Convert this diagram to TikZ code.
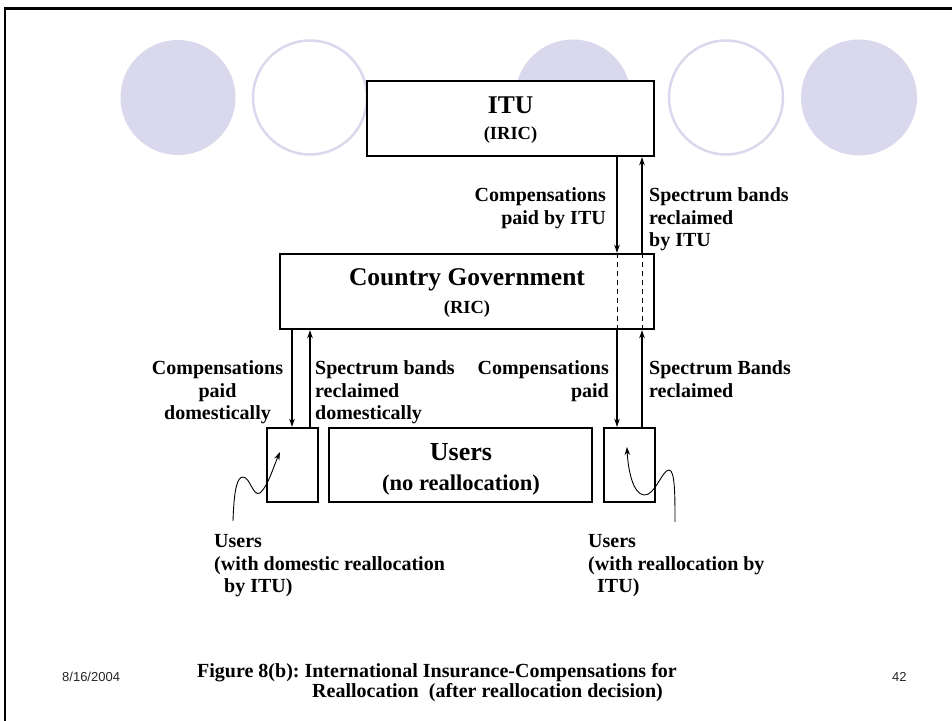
\documentclass[tikz,border=0pt]{standalone}
\usepackage{fontspec}
\setmainfont{Liberation Serif}
\newfontfamily\datefont{Liberation Sans}
\usetikzlibrary{arrows.meta,calc}
\definecolor{lav}{HTML}{DAD8EC}
\frenchspacing
\begin{document}
\begin{tikzpicture}[x=1pt,y=-1pt,
  boxnode/.style={draw, line width=2.4pt, fill=white, inner sep=0pt},
  ttl/.style={font=\bfseries\fontsize{25.5}{28}\selectfont, inner sep=0pt, anchor=base},
  sub/.style={font=\bfseries\fontsize{18.5}{22}\selectfont, inner sep=0pt, anchor=base},
  lab/.style={font=\bfseries\fontsize{20}{22.5}\selectfont, inner sep=0pt},
  arr/.style={-{Stealth[length=8pt,width=5.5pt]}, line width=1.1pt},
  curv/.style={-{Stealth[length=8pt,width=5.5pt]}, line width=0.9pt},
  dsh/.style={dashed, dash pattern=on 5pt off 4pt, line width=1pt},
  fcirc/.style={fill=lav, draw=none},
  ocirc/.style={draw=lav, line width=2.5pt, fill=white}]
\useasboundingbox (0,0) rectangle (952,720);
% slide border
\draw[line width=2.5pt] (5,730) -- (5,8.5) -- (960,8.5);
% decorative circles
\fill[fcirc] (178,97.5) circle (57.5);
\draw[ocirc] (310,97.5) circle (57);
\fill[fcirc] (573,97.5) circle (58);
\draw[ocirc] (726,97.5) circle (57);
\fill[fcirc] (859,97.5) circle (58);
% boxes
\node[boxnode, minimum width=287pt, minimum height=75pt] (itu) at (510.5,118.5) {};
\node[boxnode, minimum width=374pt, minimum height=75pt] (gov) at (467,291.5) {};
\node[boxnode, minimum width=51pt, minimum height=74pt] (ul) at (292.5,465) {};
\node[boxnode, minimum width=263pt, minimum height=74pt] (um) at (460.5,465) {};
\node[boxnode, minimum width=51pt, minimum height=74pt] (ur) at (629.5,465) {};
% box texts
\node[ttl] (itut) at (510.5,113) {ITU};
\node[sub] (itus) at (510.5,139) {(IRIC)};
\node[ttl] (govt) at (467,285.5) {Country Government};
\node[sub] (govs) at (467,313) {(RIC)};
\node[ttl, font=\bfseries\fontsize{26}{28}\selectfont] (umt) at (461,460.5) {Users};
\node[sub, font=\bfseries\fontsize{22.5}{26}\selectfont] (ums) at (461,490) {(no reallocation)};
% arrow columns
\coordinate (xa) at (617,0);
\coordinate (xb) at (642,0);
\coordinate (xc) at (292,0);
\coordinate (xd) at (310,0);
\draw[arr] (xa |- itu.south) -- (xa |- gov.north);
\draw[arr] (xb |- gov.north) -- (xb |- itu.south);
\draw[dsh] (xa |- gov.north) -- (xa |- gov.south);
\draw[dsh] (xb |- gov.north) -- (xb |- gov.south);
\draw[arr] (xa |- gov.south) -- (xa |- ur.north);
\draw[arr] (xb |- ur.north) -- (xb |- gov.south);
\draw[arr] (xc |- gov.south) -- (xc |- ul.north);
\draw[arr] (xd |- ul.north) -- (xd |- gov.south);
% labels
\node[lab, align=right, anchor=north east] (l1) at (606,187.5) {Compensations\\paid by ITU};
\node[lab, align=left, anchor=north west] (l2) at (649,187.5) {Spectrum bands\\reclaimed\\by ITU};
\node[lab, align=center, anchor=north] (l3) at (217.5,360.5) {Compensations\\paid\\domestically};
\node[lab, align=left, anchor=north west] (l4) at (315,360.5) {Spectrum bands\\reclaimed\\domestically};
\node[lab, align=right, anchor=north east] (l5) at (609,360.5) {Compensations\\paid};
\node[lab, align=left, anchor=north west] (l6) at (649,360.5) {Spectrum Bands\\reclaimed};
\node[lab, align=left, anchor=north west] (l7) at (214,534.5) {Users\\(with domestic reallocation\\\hspace*{10pt}by ITU)};
\node[lab, align=left, anchor=north west] (l8) at (588,534.5) {Users\\(with reallocation by\\\hspace*{9pt}ITU)};
% curved pointers
\coordinate (c1s) at (233,521);
\coordinate (c1e) at (280,452);
\draw[curv] (c1s) .. controls (234,490) and (237,477) .. (243,477)
  .. controls (250,477) and (253,497) .. (260,493)
  .. controls (268,486) and (273,468) .. (c1e);
\coordinate (c2s) at (675,522);
\coordinate (c2e) at (627,447);
\draw[curv] (c2s) .. controls (675,495) and (675,470) .. (669,470)
  .. controls (662,470) and (655,496) .. (644,495)
  .. controls (633,494) and (628,470) .. (c2e);
% footer
\node[font=\datefont\fontsize{13}{15}\selectfont, text=black!85, inner sep=0pt, anchor=base west] (date) at (62,681) {8/16/2004};
\node[font=\datefont\fontsize{13}{15}\selectfont, text=black!85, inner sep=0pt, anchor=base west] (pg) at (892,681) {42};
\node[font=\bfseries\fontsize{20}{20}\selectfont, inner sep=0pt, anchor=base west] (cap1) at (197,677) {Figure 8(b): International Insurance-Compensations for};
\node[font=\bfseries\fontsize{20}{20}\selectfont, inner sep=0pt, anchor=base west] (cap2) at (312,697) {Reallocation~ (after reallocation decision)};
\end{tikzpicture}
\end{document}
